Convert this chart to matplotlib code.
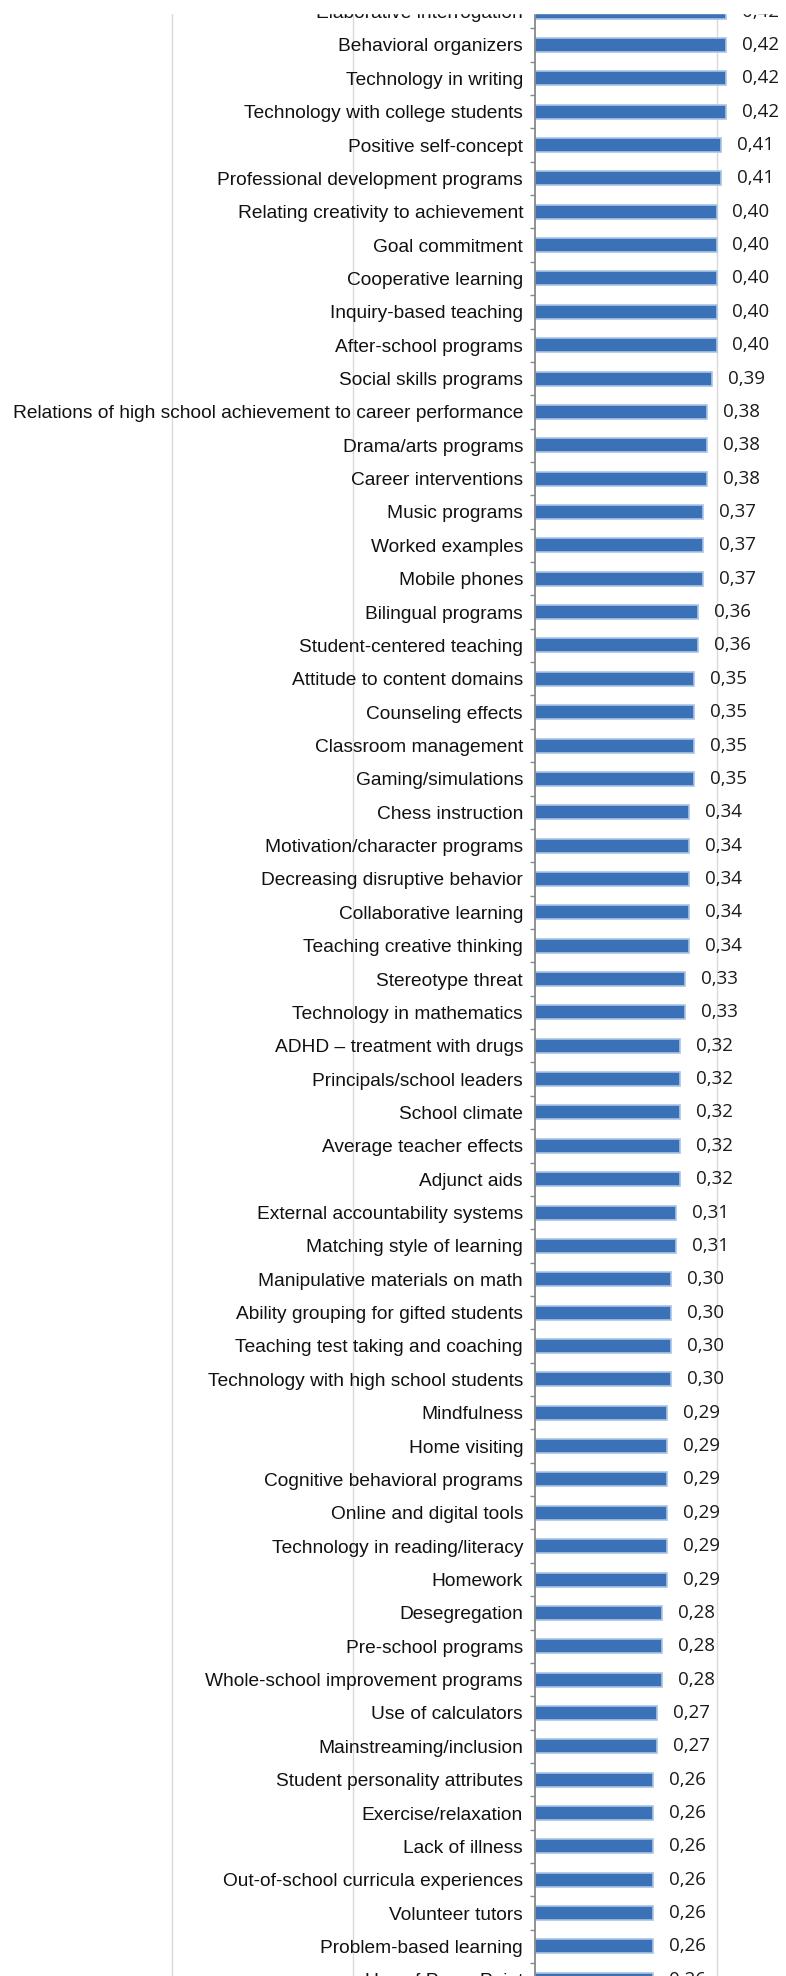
import matplotlib.pyplot as plt
from matplotlib.patches import Rectangle

# effect sizes, one bar per influence (top to bottom)
influences = [
    "Elaborative interrogation", "Behavioral organizers", "Technology in writing",
    "Technology with college students", "Positive self-concept",
    "Professional development programs", "Relating creativity to achievement",
    "Goal commitment", "Cooperative learning", "Inquiry-based teaching",
    "After-school programs", "Social skills programs",
    "Relations of high school achievement to career performance",
    "Drama/arts programs", "Career interventions", "Music programs",
    "Worked examples", "Mobile phones", "Bilingual programs",
    "Student-centered teaching", "Attitude to content domains",
    "Counseling effects", "Classroom management", "Gaming/simulations",
    "Chess instruction", "Motivation/character programs",
    "Decreasing disruptive behavior", "Collaborative learning",
    "Teaching creative thinking", "Stereotype threat",
    "Technology in mathematics", "ADHD \u2013 treatment with drugs",
    "Principals/school leaders", "School climate", "Average teacher effects",
    "Adjunct aids", "External accountability systems",
    "Matching style of learning", "Manipulative materials on math",
    "Ability grouping for gifted students", "Teaching test taking and coaching",
    "Technology with high school students", "Mindfulness", "Home visiting",
    "Cognitive behavioral programs", "Online and digital tools",
    "Technology in reading/literacy", "Homework", "Desegregation",
    "Pre-school programs", "Whole-school improvement programs",
    "Use of calculators", "Mainstreaming/inclusion",
    "Student personality attributes", "Exercise/relaxation", "Lack of illness",
    "Out-of-school curricula experiences", "Volunteer tutors",
    "Problem-based learning", "Use of PowerPoint",
]
effects = [
    0.42, 0.42, 0.42, 0.42, 0.41, 0.41, 0.40, 0.40, 0.40, 0.40,
    0.40, 0.39, 0.38, 0.38, 0.38, 0.37, 0.37, 0.37, 0.36, 0.36,
    0.35, 0.35, 0.35, 0.35, 0.34, 0.34, 0.34, 0.34, 0.34, 0.33,
    0.33, 0.32, 0.32, 0.32, 0.32, 0.32, 0.31, 0.31, 0.30, 0.30,
    0.30, 0.30, 0.29, 0.29, 0.29, 0.29, 0.29, 0.29, 0.28, 0.28,
    0.28, 0.27, 0.27, 0.26, 0.26, 0.26, 0.26, 0.26, 0.26, 0.26,
]
gridlines = [-1.2, -0.8, -0.4, 0.4]

W, H = 786, 1976
row_px = 33.36      # vertical spacing of categories
first_px = 11.6     # centre of the first row, from the top edge
top_cut = 13        # the strip is cut off here at the top

fig = plt.figure(figsize=(W / 100, H / 100), dpi=100)
# axes run past the figure edges so the first and last rows are cut off
y_lo, y_hi = -1, len(influences)
ax_top = first_px + row_px * y_lo
ax_bot = first_px + row_px * y_hi
ax = fig.add_axes([0, (H - ax_bot) / H, 1, (ax_bot - ax_top) / H])

# category axis sits at x = 0; set this before styling ticks (it resets them)
for side in ["top", "right", "bottom"]:
    ax.spines[side].set_visible(False)
ax.spines["left"].set_position(("data", 0))
ax.spines["left"].set_color("#888888")
ax.spines["left"].set_linewidth(1.3)
ax.spines["left"].set_zorder(3)

pos = list(range(len(influences)))
for g in gridlines:
    ax.axvline(g, color="#d9d9d9", lw=1, zorder=0)

bars = ax.barh(pos, effects, height=0.42, color="#3a71b7",
               edgecolor="#a9c4e6", linewidth=1.2, zorder=2)
ax.bar_label(bars, labels=[f"{v:.2f}".replace(".", ",") for v in effects],
             padding=11.5, fontsize=13.5, family="Open Sans", color="#1a1a1a")

ax.set_yticks(pos)
ax.set_yticklabels(influences, family="Liberation Sans", fontsize=13.8,
                   color="#111111")
ax.set_yticks([p + 0.5 for p in range(-1, len(influences))], minor=True)
ax.tick_params(axis="y", which="major", length=0, pad=8.5)
ax.tick_params(axis="y", which="minor", length=3.5, width=1, color="#888888",
               direction="out")
ax.set_xticks([])

ax.set_xlim(-1.178, 0.553)
ax.set_ylim(y_hi, y_lo)

# blank strip along the top edge
fig.add_artist(Rectangle((0, 1 - top_cut / H), 1, top_cut / H,
                         transform=fig.transFigure, color="white", zorder=10))

fig.savefig("out.png", dpi=100)
